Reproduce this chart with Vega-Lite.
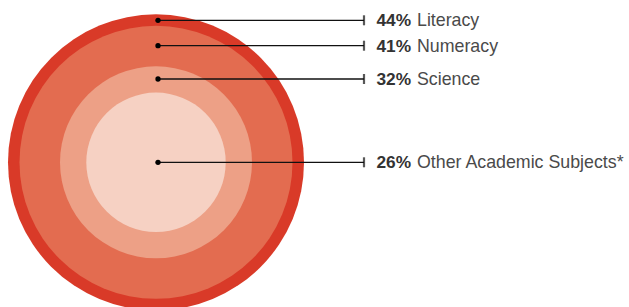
{
  "$schema": "https://vega.github.io/schema/vega-lite/v6.json",
  "width": 629,
  "height": 307,
  "autosize": {"type": "fit", "contains": "padding"},
  "padding": 0,
  "background": "white",
  "config": {"view": {"stroke": null}},
  "data": {
    "values": [
      {"subject": "Literacy", "value": 0.44},
      {"subject": "Numeracy", "value": 0.41},
      {"subject": "Science", "value": 0.32},
      {"subject": "Other Academic Subjects*", "value": 0.26}
    ]
  },
  "encoding": {
    "y": {
      "field": "value",
      "type": "quantitative",
      "axis": null,
      "scale": {
        "domain": [0.26, 0.32, 0.41, 0.44],
        "range": [162.3, 79, 45.7, 20.3],
        "nice": false,
        "zero": false
      }
    }
  },
  "layer": [
    {
      "mark": {"type": "point", "shape": "circle", "filled": true, "opacity": 1, "strokeWidth": 0},
      "encoding": {
        "x": {"datum": 156, "type": "quantitative", "axis": null, "scale": {"domain": [0, 629], "range": [0, 629], "nice": false, "zero": false}},
        "y": {"datum": 0.26, "type": "quantitative"},
        "size": {
          "field": "value",
          "type": "quantitative",
          "legend": null,
          "scale": {"domain": [0.26, 0.32, 0.41, 0.44], "range": [19432, 36864, 74529, 87616], "zero": false, "nice": false}
        },
        "color": {
          "field": "subject",
          "type": "nominal",
          "legend": null,
          "scale": {
            "domain": ["Literacy", "Numeracy", "Science", "Other Academic Subjects*"],
            "range": ["#D93A28", "#E36C50", "#EDA086", "#F6D1C3"]
          }
        }
      }
    },
    {
      "mark": {"type": "rule", "color": "#111111", "strokeWidth": 1.3},
      "encoding": {
        "x": {"datum": 158, "type": "quantitative"},
        "x2": {"datum": 364}
      }
    },
    {
      "mark": {"type": "tick", "orient": "vertical", "color": "#111111", "size": 10, "thickness": 2.2},
      "encoding": {
        "x": {"datum": 364, "type": "quantitative"}
      }
    },
    {
      "mark": {"type": "point", "shape": "circle", "filled": true, "opacity": 1, "color": "#000000", "size": 28, "strokeWidth": 0},
      "encoding": {
        "x": {"datum": 158, "type": "quantitative"}
      }
    },
    {
      "mark": {"type": "text", "align": "left", "baseline": "middle", "dy": 1, "font": "Liberation Sans", "fontSize": 17.3, "fontWeight": "bold", "color": "#333333"},
      "encoding": {
        "x": {"datum": 376.5, "type": "quantitative"},
        "text": {"field": "value", "type": "quantitative", "format": ".0%"}
      }
    },
    {
      "mark": {"type": "text", "align": "left", "baseline": "middle", "dy": 1, "font": "Liberation Sans", "fontSize": 17.8, "fontWeight": "normal", "color": "#4a4a4a"},
      "encoding": {
        "x": {"datum": 417, "type": "quantitative"},
        "text": {"field": "subject", "type": "nominal"}
      }
    }
  ]
}
